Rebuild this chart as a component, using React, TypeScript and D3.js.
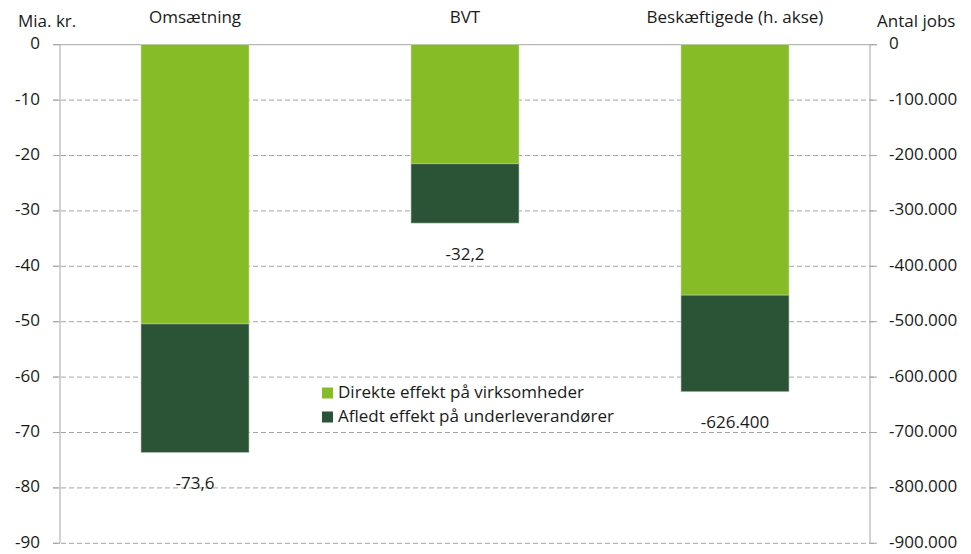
import React from 'react';
import * as d3 from 'd3';

// data
const categories = ['Omsætning', 'BVT', 'Beskæftigede (h. akse)'];
const axisOf = ['left', 'left', 'right'];
const direct = [-50.4, -21.5, -452000];
const derived = [-23.2, -10.7, -174400];
const totalLabels = ['-73,6', '-32,2', '-626.400'];
const leftTicks = [0, -10, -20, -30, -40, -50, -60, -70, -80, -90];
const rightTicks = [0, -100000, -200000, -300000, -400000, -500000, -600000, -700000, -800000, -900000];
const seriesNames = ['Direkte effekt på virksomheder', 'Afledt effekt på underleverandører'];
const colors = ['#86bc25', '#2b5335'];

const width = 971;
const height = 554;
const margin = { top: 44.7, right: 101, bottom: 10.7, left: 60 };
const font = '"Open Sans", "Noto Sans", sans-serif';
const fs = 17;

const locale = d3.formatLocale({ decimal: ',', thousands: '.', grouping: [3], currency: ['', ' kr.'] });
const fmtRight = locale.format(',d');

const App = () => {
  const x = d3.scaleBand()
    .domain(categories)
    .range([margin.left, width - margin.right])
    .paddingInner(0.6)
    .paddingOuter(0.3);

  const yLeft = d3.scaleLinear()
    .domain([-90, 0])
    .range([height - margin.bottom, margin.top]);

  const yRight = d3.scaleLinear()
    .domain([-900000, 0])
    .range([height - margin.bottom, margin.top]);

  const yFor = i => (axisOf[i] === 'left' ? yLeft : yRight);
  const x0 = margin.left;
  const x1 = width - margin.right;
  const gridColor = '#a6a6a6';

  return (
    <svg width={width} height={height} style={{ position: 'absolute', left: 0, top: 0 }}
      fontFamily={font} fill="#1a1a1a">
      {/* gridlines */}
      {leftTicks.map((t, i) => (
        <line key={'g' + i} x1={x0 - 7} x2={x1 + 7} y1={yLeft(t)} y2={yLeft(t)}
          stroke={gridColor} strokeWidth={1}
          strokeDasharray={t === 0 ? null : '5,3'} />
      ))}

      {/* bars */}
      {categories.map((c, i) => {
        const y = yFor(i);
        const bx = x(c);
        const bw = x.bandwidth();
        const total = direct[i] + derived[i];
        return (
          <g key={c}>
            <rect x={bx} width={bw} y={y(0)} height={y(direct[i]) - y(0)}
              fill={colors[0]} stroke="#c9d9b0" strokeWidth={0.6} />
            <rect x={bx} width={bw} y={y(direct[i])} height={y(total) - y(direct[i])}
              fill={colors[1]} stroke="#b9c6bb" strokeWidth={0.6} />
            <text x={bx + bw / 2} y={y(total) + 32} textAnchor="middle"
              dominantBaseline="middle" fontSize={fs}>{totalLabels[i]}</text>
            <text x={bx + bw / 2} y={18} textAnchor="middle"
              dominantBaseline="middle" fontSize={fs}>{c}</text>
          </g>
        );
      })}

      {/* left axis */}
      <line x1={x0} x2={x0} y1={yLeft(0)} y2={yLeft(-90)} stroke={gridColor} />
      {leftTicks.map((t, i) => (
        <g key={'l' + i}>
          <line x1={x0 - 7} x2={x0} y1={yLeft(t)} y2={yLeft(t)} stroke={gridColor} />
          <text x={40} y={yLeft(t)} textAnchor="end" dominantBaseline="middle" fontSize={fs}>
            {String(t)}
          </text>
        </g>
      ))}
      <text x={18} y={22} dominantBaseline="middle" fontSize={fs}>Mia. kr.</text>

      {/* right axis */}
      <line x1={x1} x2={x1} y1={yRight(0)} y2={yRight(-900000)} stroke={gridColor} />
      {rightTicks.map((t, i) => (
        <g key={'r' + i}>
          <line x1={x1} x2={x1 + 7} y1={yRight(t)} y2={yRight(t)} stroke={gridColor} />
          <text x={889} y={yRight(t)} dominantBaseline="middle" fontSize={fs}>
            {fmtRight(t).replace('−', '-')}
          </text>
        </g>
      ))}
      <text x={877} y={22} dominantBaseline="middle" fontSize={fs}>Antal jobs</text>

      {/* legend */}
      {seriesNames.map((s, i) => (
        <g key={s} transform={`translate(322,${393 + i * 24})`}>
          <rect x={0} y={-5.5} width={11} height={11} fill={colors[i]} />
          <text x={16} y={0} dominantBaseline="middle" fontSize={fs}>{s}</text>
        </g>
      ))}
    </svg>
  );
};

export default App;
